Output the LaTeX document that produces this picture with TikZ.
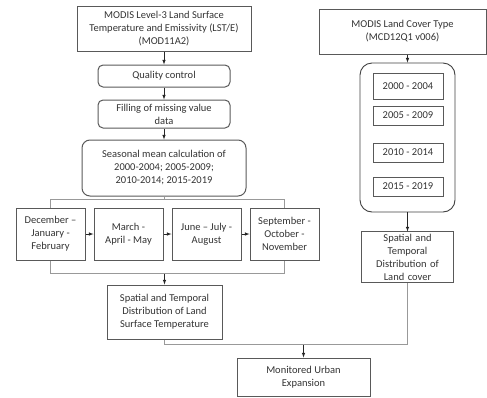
\documentclass[tikz,border=0pt]{standalone}
\usepackage{fontspec}
\setmainfont{Carlito}
\usetikzlibrary{positioning, calc}
\tikzset{block/.style={draw=black!65, line width=1pt, align=center, inner sep=1pt, text=black!80, font=\fontsize{10.5}{13}\selectfont},
rblock/.style={block, rounded corners=5pt},
yblock/.style={block, minimum width=70pt, minimum height=19pt},
line/.style={-latex, draw=black!85, line width=0.6pt},
link/.style={draw=black!40, line width=0.8pt}
}
\begin{document}
\begin{tikzpicture}[x=1pt, y=1pt, node distance=8pt]
\useasboundingbox (0,0) rectangle (487,-397);
% left branch: land surface temperature
\node[block, minimum width=174pt, minimum height=45pt] (LST) at (164,-28.5) {MODIS Level-3 Land Surface\\Temperature and Emissivity (LST/E)\\(MOD11A2)};
\node[rblock, minimum width=132pt, minimum height=22pt, below=13pt of LST] (Quality) {Quality control};
\node[rblock, minimum width=132pt, minimum height=28pt, below=12pt of Quality] (Filling) {Filling of missing value\\data};
\node[rblock, minimum width=164pt, minimum height=56pt, below=11pt of Filling, rounded corners=8pt] (Seasonal) {Seasonal mean calculation of\\2000-2004; 2005-2009;\\2010-2014; 2015-2019};

\node[block, minimum width=69pt, minimum height=52pt] (DJF) at (50.5,-234) {December --\\January -\\February};
\node[block, minimum width=69pt, minimum height=52pt, right=of DJF] (MAM) {March -\\April - May};
\node[block, minimum width=69pt, minimum height=52pt, right=of MAM] (JJA) {June -- July -\\August};
\node[block, minimum width=69pt, minimum height=52pt, right=of JJA] (SON) {September -\\October -\\November};

\node[block, minimum width=115pt, minimum height=54pt] (LST Map) at (164.5,-312) {Spatial and Temporal\\Distribution of Land\\Surface Temperature};

% right branch: land cover
\node[block, minimum width=167pt, minimum height=45pt] (Land Cover) at (402.5,-31.5) {MODIS Land Cover Type\\(MCD12Q1 v006)};
\node[draw=black!75, line width=0.9pt, rounded corners=12pt, minimum width=95pt, minimum height=149pt] (Years) at (407.5,-137.5) {};
\node[yblock, minimum height=26pt] (Y1) at (408,-86) {2000 - 2004};
\node[yblock] (Y2) at (408,-115.5) {2005 - 2009};
\node[yblock] (Y3) at (408,-152.5) {2010 - 2014};
\node[yblock] (Y4) at (408,-186.5) {2015 - 2019};
\node[block, minimum width=92pt, minimum height=51pt, text width=90pt, below=19pt of Years] (LC Map) {Spatial and\\Temporal\\Distribution of\\Land cover};

\node[block, minimum width=133pt, minimum height=38pt] (Urban) at (303.5,-377) {Monitored Urban\\Expansion};

\coordinate (Top Bar) at ($(Seasonal.south)+(0,-3)$);
\coordinate (Low Bar) at ($(LST Map.north)+(0,11)$);
\coordinate (Join) at ($(Urban.north)+(0,13)$);

\draw[line] (LST)-- (Quality);
\draw[line] (Quality)-- (Filling);
\draw[line] (Filling)-- (Seasonal);
\draw[link] (Seasonal.south)-- (Top Bar);
\draw[link] (DJF.north) |- (Top Bar) -| (SON.north);
\draw[line] (DJF)-- (MAM);
\draw[line] (MAM)-- (JJA);
\draw[line] (JJA)-- (SON);
\draw[link] (DJF.south) |- (Low Bar) -| (SON.south);
\draw[line] (Low Bar)-- (LST Map);

\draw[line] (Years.north |- Land Cover.south)-- (Years.north);
\draw[line] (Years)-- (LC Map);

\draw[link] (LST Map.south) |- (Join);
\draw[link] (LC Map.south) |- (Join);
\draw[line] (Join)-- (Urban);
\end{tikzpicture}
\end{document}
